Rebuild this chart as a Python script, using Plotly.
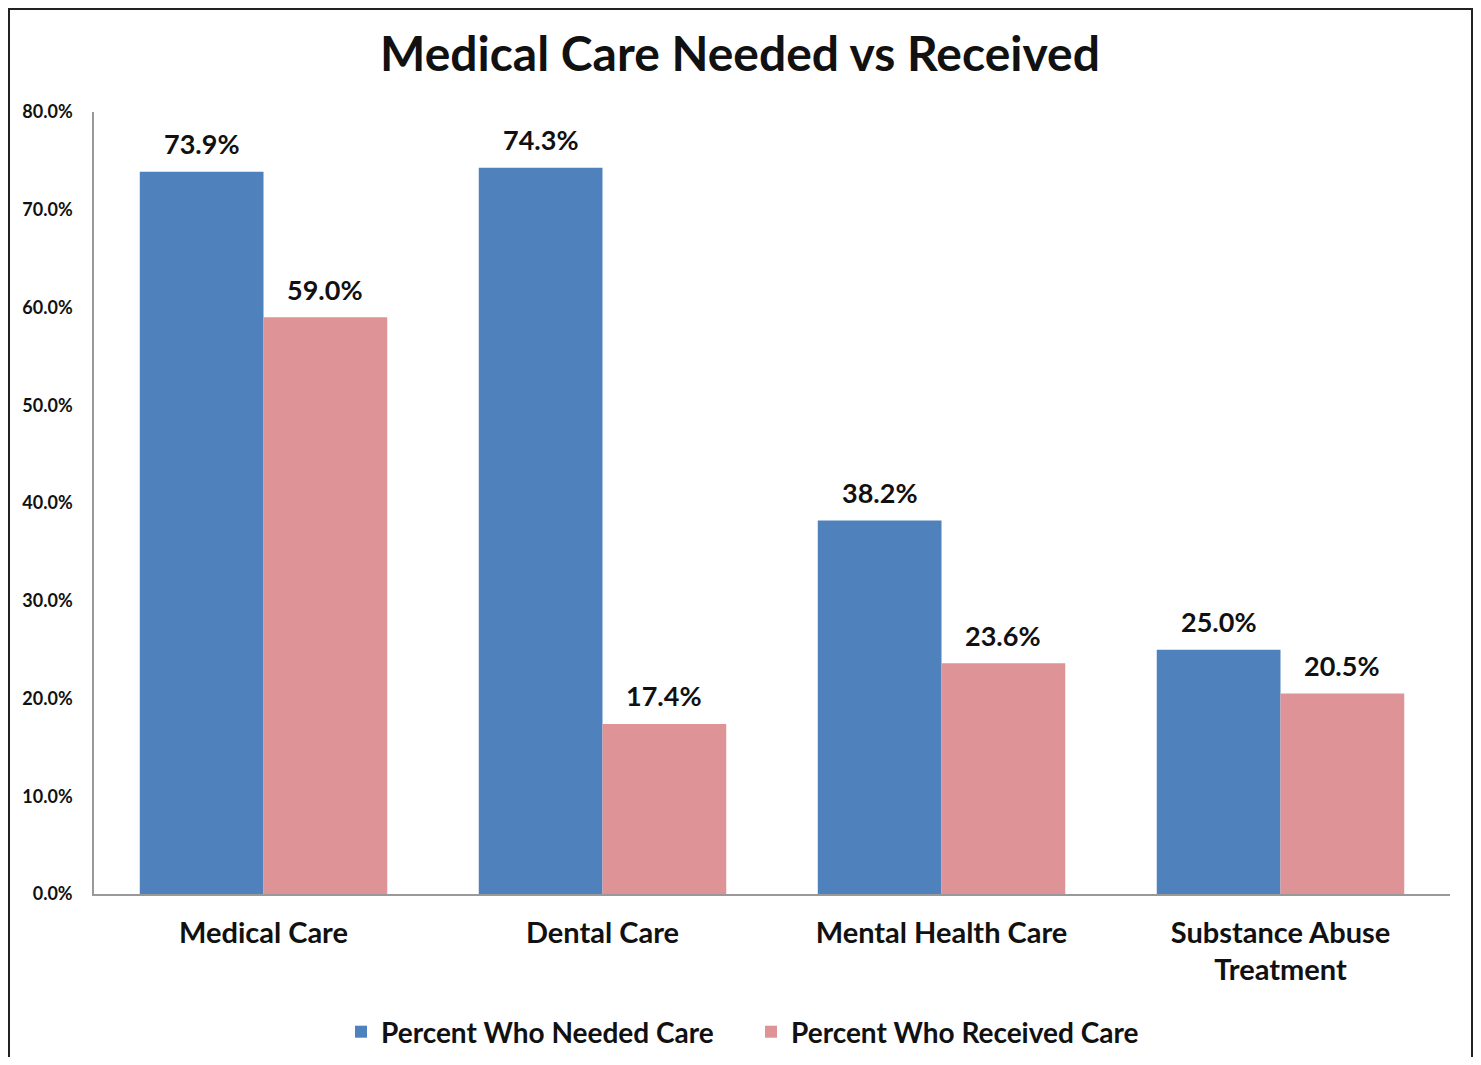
import plotly.graph_objects as go

categories = ["Medical Care", "Dental Care", "Mental Health Care", "Substance Abuse<br>Treatment"]
needed = [0.739, 0.743, 0.382, 0.250]
received = [0.590, 0.174, 0.236, 0.205]
series_names = ["Percent Who Needed Care", "Percent Who Received Care"]
tick_vals = [0.0, 0.1, 0.2, 0.3, 0.4, 0.5, 0.6, 0.7, 0.8]

FONT = "Lato"
OFF = 8  # page body offset
W, H = 1481 - 2 * OFF, 1065 - 2 * OFF
L, R, T, B = 94 - OFF, W - (1450 - OFF), 112 - OFF, H - (894 - OFF)
pw, ph = W - L - R, H - T - B
BARGAP = 0.27

fig = go.Figure()
fig.add_trace(go.Bar(
    x=categories, y=needed, name=series_names[0],
    marker=dict(color="#4F81BD", line=dict(width=0)),
))
fig.add_trace(go.Bar(
    x=categories, y=received, name=series_names[1],
    marker=dict(color="#DE9396", line=dict(width=0)),
))

# data labels placed above each bar through the axis scale
bar_px = pw / len(categories) * (1 - BARGAP) / 2
for series, shift in ((needed, -bar_px / 2), (received, bar_px / 2)):
    for cat, val in zip(categories, series):
        fig.add_annotation(x=cat, y=val, xref="x", yref="y", text=f"{val:.1%}",
                           showarrow=False, xshift=shift, yshift=28, yanchor="middle",
                           font=dict(family=FONT, size=27, color="#111111", weight="bold"))

def px_x(x):  # page pixel -> paper fraction
    return (x - OFF - L) / pw

def px_y(y):
    return (H - B - (y - OFF)) / ph

fig.add_shape(type="rect", xref="paper", yref="paper",
              x0=px_x(9), x1=px_x(1472), y0=px_y(1090), y1=px_y(9),
              line=dict(color="#222222", width=2), fillcolor="rgba(0,0,0,0)", layer="below")

fig.update_layout(
    width=W, height=H,
    margin=dict(l=L, r=R, t=T, b=B),
    paper_bgcolor="white", plot_bgcolor="white",
    barmode="group", bargap=BARGAP, bargroupgap=0,
    title=dict(text="Medical Care Needed vs Received", x=(740 - OFF) / W, xref="container",
               xanchor="center",
               y=1 - (54 - OFF) / H, yref="container", yanchor="middle",
               font=dict(family=FONT, size=48, color="#111111", weight="bold")),
    legend=dict(orientation="h", x=(751 - OFF) / W, xref="container", xanchor="center",
                y=1 - (1032 - OFF) / H, yref="container", yanchor="middle",
                font=dict(family=FONT, size=28, color="#111111", weight="bold"),
                itemwidth=30, traceorder="normal",
                entrywidth=365, entrywidthmode="pixels"),
    showlegend=True,
)
fig.update_xaxes(showline=True, linecolor="#999999", linewidth=1.5,
                 ticks="outside", ticklen=12, tickcolor="rgba(0,0,0,0)",
                 tickfont=dict(family=FONT, size=29, color="#111111", weight="bold"),
                 showgrid=False)
fig.update_yaxes(range=[0, 0.8], tickvals=tick_vals, tickformat=".1%",
                 showline=True, linecolor="#999999", linewidth=1.5,
                 ticks="outside", ticklen=16, tickcolor="rgba(0,0,0,0)",
                 tickfont=dict(family=FONT, size=18, color="#111111", weight="bold"),
                 showgrid=False, zeroline=False)

fig.write_html("out.html")
